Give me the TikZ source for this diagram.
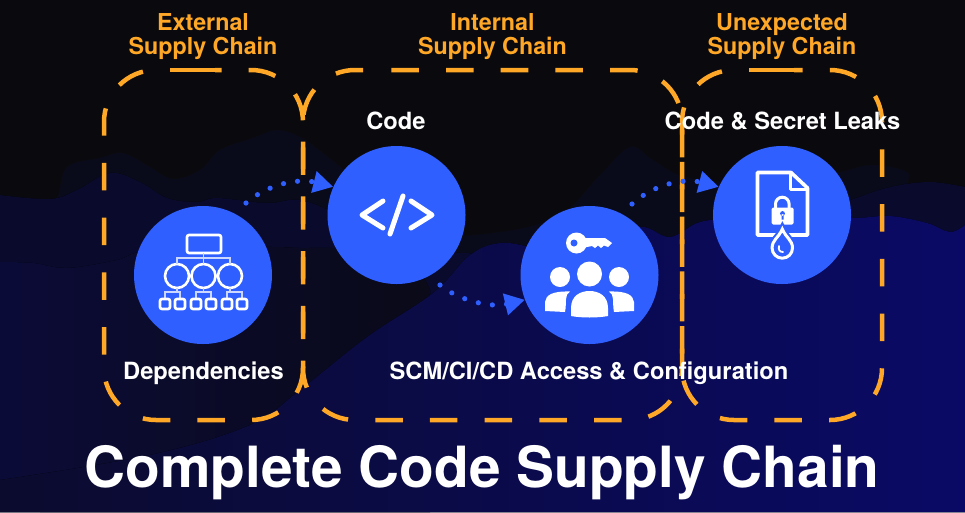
\documentclass[tikz,border=0pt]{standalone}
\usepackage{fontspec}
\setmainfont{TeX Gyre Heros}
\usepackage{tikz}
\usetikzlibrary{arrows.meta}
\definecolor{nightbg}{HTML}{0A0A0E}
\definecolor{ridgefar}{HTML}{0A0B1A}
\definecolor{ridgemid}{HTML}{0A0B2C}
\definecolor{ridgedim}{HTML}{0A0A18}
\definecolor{ridgeback}{HTML}{0B0B38}
\definecolor{ridgedark}{HTML}{0B0B2E}
\definecolor{ridgenear}{HTML}{0A0A66}
\definecolor{chainorange}{HTML}{FFA726}
\definecolor{iconblue}{HTML}{2F5FFF}

\begin{document}
\begin{tikzpicture}[
    x=1pt, y=-1pt,
    iconcircle/.style={circle, fill=iconblue, minimum size=138pt, inner sep=0pt},
    chainedge/.style={draw=chainorange, line width=4.5pt},
    chaindash/.style={chainedge, dash pattern=on 27.5pt off 27.2pt, rounded corners=52pt},
    flow/.style={draw=iconblue, line width=5.2pt, line cap=round, dash pattern=on 0pt off 14.2pt,
        -{Triangle[length=20pt,width=21pt]}},
    steplabel/.style={text=white, anchor=base, font=\bfseries\fontsize{23.7}{26}\selectfont},
    chainlabel/.style={text=chainorange, align=center, font=\bfseries\fontsize{23.3}{24}\selectfont},
    iconline/.style={draw=white, line width=2.6pt, rounded corners=2pt},
    iconthin/.style={draw=white!75!iconblue, line width=1.2pt},
    codeglyph/.style={draw=white, line width=5pt, line cap=round, line join=round},
    ridge/.style={smooth, tension=.6},
]
    \useasboundingbox (0,0) rectangle (965,512);
    \fill[nightbg] (0,0) rectangle (965,512);

    % --- Ridges behind everything ---
    \fill[ridgefar] plot[ridge] coordinates {(40,215) (57,198) (67,167) (100,158) (123,153) (150,167)
        (173,179) (200,170) (220,150) (253,138) (277,130) (300,137) (323,153) (370,190) (430,232)
        (500,232) (560,215) (600,175) (630,147) (653,160) (690,178) (780,185) (840,172) (873,165)
        (907,172) (912,187) (965,190)} -- (965,512) -- (40,512) -- cycle;
    \fill[left color=ridgemid, middle color=ridgedim, right color=ridgemid]
        plot[ridge] coordinates {(0,195) (50,199) (77,190) (110,173) (140,182) (167,198) (197,202)
        (217,198) (267,203) (300,200) (340,215) (420,250) (600,250) (760,230) (850,200) (890,187)
        (930,182) (965,187)} -- (965,512) -- (0,512) -- cycle;
    \fill[left color=ridgeback, right color=ridgedim]
        plot[ridge] coordinates {(0,262) (33,263) (67,268) (117,260) (140,252) (200,247) (273,247)
        (300,248) (333,248) (400,250) (430,290)} -- (430,512) -- (0,512) -- cycle;
    \fill[left color=ridgedark, right color=ridgenear]
        plot[ridge] coordinates {(0,480) (150,455) (250,425) (300,390) (367,337) (433,293) (470,255)
        (500,243) (533,247) (570,250) (600,245) (640,227) (670,237) (700,222) (740,218) (800,215)
        (853,218) (890,216) (927,223) (950,232) (965,225)} -- (965,512) -- (0,512) -- cycle;

    % --- Dashed supply chain boxes ---
    \draw[chaindash, dash phase=27.5pt] (170,70) -- (104,70) -- (104,420) -- (303,420) -- (303,70) -- (215,70);
    \draw[chainedge] (170,70) -- (215,70);
    \draw[chaindash] (363,70) -- (303,70) -- (303,420) -- (682,420) -- (682,70) -- (386,70);
    \draw[chaindash, dash phase=27.5pt] (749,70) -- (682,70) -- (682,420) -- (882,420) -- (882,70) -- (794,70);
    \draw[chainedge] (749,70) -- (794,70);

    % --- Circles ---
    \node[iconcircle] (dep)  at (203,275) {};
    \node[iconcircle] (code) at (396.5,215) {};
    \node[iconcircle] (scm)  at (589.5,275) {};
    \node[iconcircle] (leak) at (782,215) {};

    % --- Dotted flows ---
    \coordinate (depout)  at (246,203);
    \coordinate (codeout) at (440,285);
    \coordinate (scmout)  at (632,204);
    \draw[flow] (depout) .. controls (268,184) and (298,178) .. (code.156);
    \draw[flow] (codeout) .. controls (458,300) and (490,308) .. (scm.201);
    \draw[flow] (scmout) .. controls (654,184) and (684,178) .. (leak.156);

    % --- Dependency tree icon ---
    \draw[iconline] (187,235) rectangle (221,253);
    \draw[iconline] (177,276) circle (12) (203.5,276) circle (12) (230,276) circle (12);
    \draw[iconthin] (203.5,253) -- (203.5,264) (177,264) -- (177,258) -- (230,258) -- (230,264);
    \foreach \x/\y in {172.5/177, 203.5/203.5, 234.5/230} {
        \draw[iconthin] (\x-7.5,299) -- (\x-7.5,292) -- (\x+7.5,292) -- (\x+7.5,299) (\y,288) -- (\y,292);
        \draw[iconline] (\x-12.5,299) rectangle (\x-2.5,309);
        \draw[iconline] (\x+2.5,299) rectangle (\x+12.5,309);
    }

    % --- Code icon ---
    \draw[codeglyph] (383,201) -- (362,215) -- (383,228);
    \draw[codeglyph] (403,196) -- (390,234);
    \draw[codeglyph] (411,201) -- (432,215) -- (411,228);

    % --- Key and people icon ---
    \fill[white] (576.5,243) circle (10.5);
    \fill[iconblue] (574,243) circle (3.5);
    \fill[white] (582,238) -- (605,238) -- (612,243) -- (608,247) -- (604,245.5) -- (601,248)
        -- (598,245.5) -- (595,248) -- (592,246) -- (582,248) -- cycle;
    \fill[white] (589.5,274) circle (12.5) (560,277) circle (10) (619,277) circle (10);
    \fill[white] (571,316) -- (571,308) .. controls (571,296) and (580,291) .. (589.5,291)
        .. controls (599,291) and (608,296) .. (608,308) -- (608,316)
        .. controls (598,318) and (581,318) .. (571,316) -- cycle;
    \fill[white] (545,311) -- (545,302) .. controls (546,295) and (552,291) .. (570,291.5)
        .. controls (564,295) and (567,302) .. (565,312) -- cycle;
    \fill[white] (634,311) -- (634,302) .. controls (633,295) and (627,291) .. (609,291.5)
        .. controls (615,295) and (612,302) .. (614,312) -- cycle;

    % --- Leaking file icon ---
    \draw[draw=white, line width=3.6pt, line join=round] (757.5,235) -- (757.5,172.5) -- (791,172.5)
        -- (807.5,188) -- (807.5,235) -- cycle;
    \draw[draw=white, line width=3pt, line join=round] (790.5,172.5) -- (790.5,189) -- (807.5,189);
    \draw[draw=white, line width=3pt] (775.5,208) -- (775.5,204) arc (180:360:6.8) -- (789.1,208);
    \fill[white, rounded corners=1.5pt] (771.5,207.5) rectangle (793.5,224.5);
    \fill[iconblue] (782.5,213.5) circle (2.4) (781.5,214) rectangle (783.5,219.5);
    \draw[draw=white, fill=iconblue, line width=3pt, preaction={draw=iconblue, line width=7pt}]
        (782.3,229) .. controls (786,238) and (792.5,240) .. (792.5,248)
        arc (0:180:10.2) .. controls (772,240) and (778.5,238) .. (782.3,229) -- cycle;
    \draw[draw=white, line width=1.8pt, line cap=round] (779,246) .. controls (778,250) and (780,252) .. (783,252);

    % --- Labels ---
    \node[chainlabel] (labelext) at (203,37) {External\\Supply Chain};
    \node[chainlabel] (labelint) at (492.5,37) {Internal\\Supply Chain};
    \node[chainlabel] (labelunx) at (782,37) {Unexpected\\Supply Chain};
    \node[steplabel] (labelcode) at (396,129) {Code};
    \node[steplabel] (labelleak) at (782.5,129) {Code \& Secret Leaks};
    \node[steplabel] (labeldep)  at (203.5,379) {Dependencies};
    \node[steplabel] (labelscm)  at (589,379) {SCM/CI/CD Access \& Configuration};
    \node[text=white, anchor=base, font=\bfseries\fontsize{56.8}{60}\selectfont] (title) at (482,487) {Complete Code Supply Chain};
\end{tikzpicture}
\end{document}
